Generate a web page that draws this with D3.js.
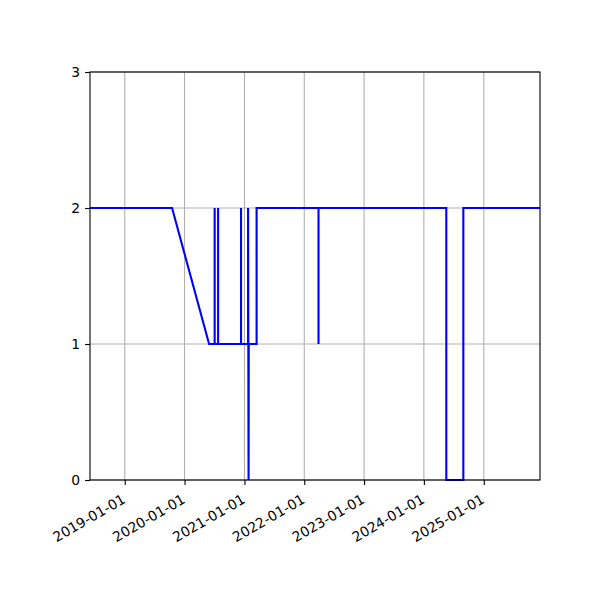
<!DOCTYPE html>
<html>
<head>
<meta charset="utf-8">
<script src="https://cdn.jsdelivr.net/npm/d3@7"></script>
<style>
   body { margin: 0; background: #fff; }
   text { font-family: "DejaVu Sans", sans-serif; font-size: 13.9px; fill: #000; }
</style>
</head>
<body>
<svg></svg>
<script>
var width = 600;
var height = 600;

// readings: date and level
var dates = [
   '2018-06-03', '2019-10-17', '2020-05-30',
   '2020-07-03', '2020-07-03', '2020-07-03',
   '2020-07-24', '2020-07-24', '2020-07-24',
   '2020-12-11', '2020-12-11', '2020-12-11',
   '2021-01-23', '2021-01-23', '2021-01-26', '2021-01-27',
   '2021-03-16', '2021-03-16',
   '2022-03-29', '2022-03-29', '2022-03-29',
   '2024-05-17', '2024-05-17',
   '2024-08-29', '2024-08-29',
   '2025-12-10'
];
var values = [
   2, 2, 1,
   1, 2, 1,
   1, 2, 1,
   1, 2, 1,
   1, 2, 0, 1,
   1, 2,
   2, 1, 2,
   2, 0,
   0, 2,
   2
];
var yTicks = [0, 1, 2, 3];
var xTicks = ['2019-01-01', '2020-01-01', '2021-01-01', '2022-01-01', '2023-01-01', '2024-01-01', '2025-01-01'];

var margin = { left: 90, right: 60, top: 72, bottom: 120 };

var parse = d3.utcParse('%Y-%m-%d');
var fmt = d3.utcFormat('%Y-%m-%d');

var data = dates.map(function(d, i) { return { date: parse(d), value: values[i] }; });

var x = d3.scaleUtc()
   .domain(d3.extent(data, function(d) { return d.date; }))
   .range([margin.left, width - margin.right])
;

var y = d3.scaleLinear()
   .domain([0, 3])
   .range([height - margin.bottom, margin.top])
;

var svg = d3.select('svg')
   .attr('width', width)
   .attr('height', height)
;

// grid
svg.append('g')
   .selectAll('line.gx')
   .data(xTicks.map(parse))
   .enter()
   .append('line')
   .attr('x1', function(d) { return x(d); })
   .attr('x2', function(d) { return x(d); })
   .attr('y1', margin.top)
   .attr('y2', height - margin.bottom)
   .attr('stroke', '#b0b0b0')
   .attr('stroke-width', 1.1)
;

svg.append('g')
   .selectAll('line.gy')
   .data(yTicks)
   .enter()
   .append('line')
   .attr('x1', margin.left)
   .attr('x2', width - margin.right)
   .attr('y1', function(d) { return y(d); })
   .attr('y2', function(d) { return y(d); })
   .attr('stroke', '#b0b0b0')
   .attr('stroke-width', 1.1)
;

var line = d3.line()
   .x(function(d) { return x(d.date); })
   .y(function(d) { return y(d.value); })
;

svg.append('path')
   .datum(data)
   .attr('d', line)
   .attr('fill', 'none')
   .attr('stroke', '#0000ff')
   .attr('stroke-width', 2.1)
   .attr('stroke-linejoin', 'miter')
;

// axes, matplotlib look
var xAxis = svg.append('g')
   .attr('transform', 'translate(0,' + (height - margin.bottom) + ')')
   .call(d3.axisBottom(x).tickValues(xTicks.map(parse)).tickFormat(fmt).tickSize(4.9).tickSizeOuter(0))
;

xAxis.selectAll('text')
   .attr('text-anchor', 'end')
   .attr('x', null)
   .attr('y', null)
   .attr('dy', '0.75em')
   .attr('transform', 'translate(-4,13) rotate(-30)')
;

var yAxis = svg.append('g')
   .attr('transform', 'translate(' + margin.left + ',0)')
   .call(d3.axisLeft(y).tickValues(yTicks).tickFormat(d3.format('d')).tickSize(4.9).tickSizeOuter(0))
;

yAxis.selectAll('text')
   .attr('x', -9.8)
;

svg.selectAll('.domain').remove();
svg.selectAll('.tick line').attr('stroke', '#000').attr('stroke-width', 1.1);
svg.selectAll('.tick text').style('font-family', '"DejaVu Sans", sans-serif').style('font-size', '13.9px');

// frame
svg.append('rect')
   .attr('x', margin.left)
   .attr('y', margin.top)
   .attr('width', width - margin.left - margin.right)
   .attr('height', height - margin.top - margin.bottom)
   .attr('fill', 'none')
   .attr('stroke', '#000')
   .attr('stroke-width', 1.1)
;
</script>
</body>
</html>
